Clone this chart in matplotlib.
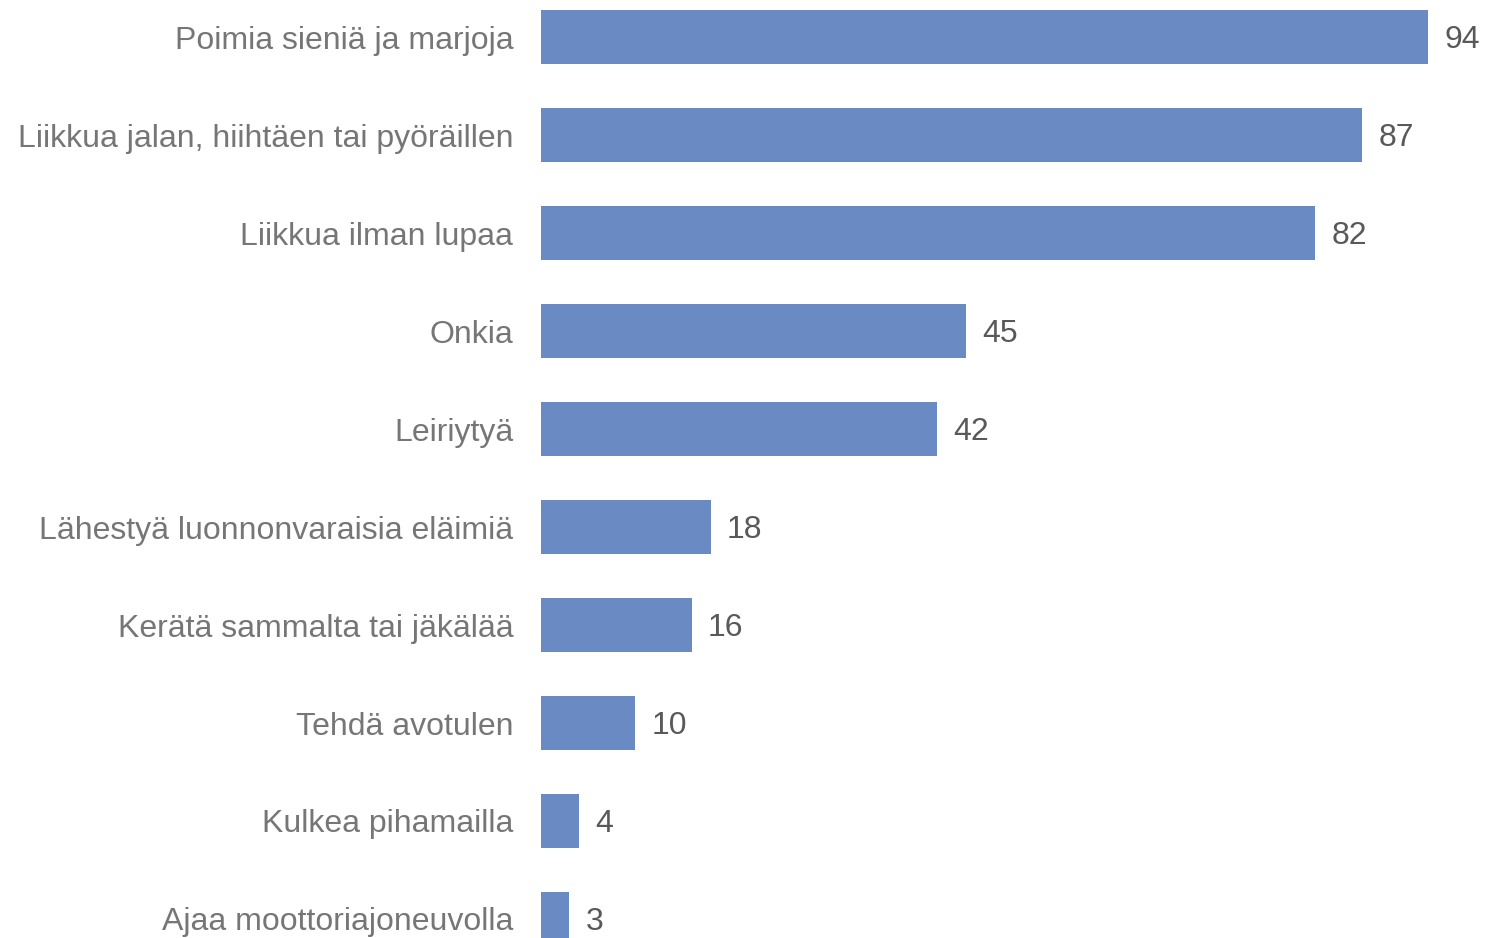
import matplotlib.pyplot as plt

categories = ['Poimia sieniä ja marjoja', 'Liikkua jalan, hiihtäen tai pyöräillen',
              'Liikkua ilman lupaa', 'Onkia', 'Leiriytyä',
              'Lähestyä luonnonvaraisia eläimiä', 'Kerätä sammalta tai jäkälää',
              'Tehdä avotulen', 'Kulkea pihamailla', 'Ajaa moottoriajoneuvolla']
values = [94, 87, 82, 45, 42, 18, 16, 10, 4, 3]

bar_color = '#6A8AC3'
label_color = '#767676'
value_color = '#595959'
plt.rcParams['font.family'] = ['Liberation Sans', 'DejaVu Sans']

fig = plt.figure(figsize=(14.86, 9.38), dpi=100)
ax = fig.add_axes([541 / 1486, 0, 944 / 1486, 1])

pos = list(range(len(values)))
ax.barh(pos, values, height=0.56, color=bar_color)
for p, v in zip(pos, values):
    ax.text(v + 1.7, p + 0.03, str(v), va='center', ha='left', fontsize=23, color=value_color)

ax.set_xlim(0, 100)
ax.set_ylim(9.194, -0.378)
ax.set_yticks(pos)
ax.set_yticklabels(categories, fontsize=23, color=label_color)
ax.tick_params(axis='y', length=0, pad=20)
ax.set_xticks([])
for s in ax.spines.values():
    s.set_visible(False)

plt.savefig('out.png', dpi=100)
